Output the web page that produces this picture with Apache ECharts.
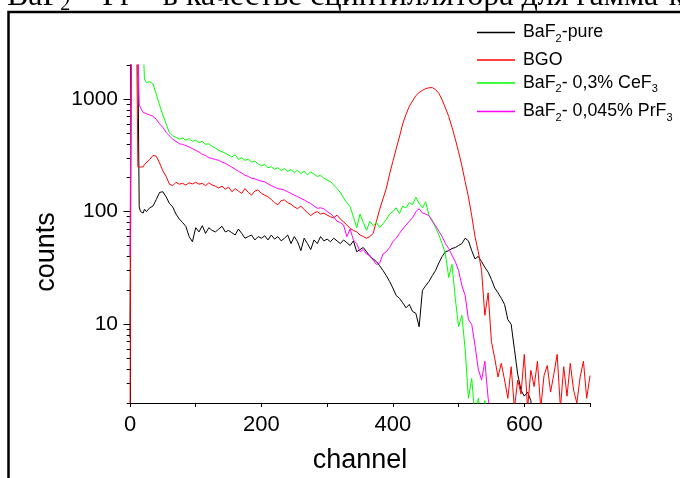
<!DOCTYPE html>
<html>
<head>
<meta charset="utf-8">
<script src="https://cdn.jsdelivr.net/npm/echarts@6/dist/echarts.min.js"></script>
<style>
html, body { margin: 0; padding: 0; background: #fff; }
#chart { width: 680px; height: 478px; }
</style>
</head>
<body>
<div id="chart"></div>
<script>
// channel grid (x)
var channels = [0, 2, 4, 6, 8, 10, 12, 14, 16, 18, 20, 22,
	25, 30, 35, 40, 45, 50, 55, 60, 65, 70,
	75, 80, 85, 90, 95, 100, 105, 110, 115, 120,
	125, 130, 135, 140, 145, 150, 155, 160, 165, 170,
	175, 180, 185, 190, 195, 200, 205, 210, 215, 220,
	225, 230, 235, 240, 245, 250, 255, 260, 265, 270,
	275, 280, 285, 290, 295, 300, 305, 310, 315, 320,
	325, 330, 335, 340, 345, 350, 355, 360, 365, 370,
	375, 380, 385, 390, 395, 400, 405, 410, 415, 420,
	425, 430, 435, 440, 445, 450, 455, 460, 465, 470,
	475, 480, 485, 490, 495, 500, 505, 510, 515, 520,
	525, 530, 535, 540, 545, 550, 555, 560, 565, 570,
	575, 580, 585, 590, 595, 600, 605, 610, 615, 620,
	625, 630, 635, 640, 645, 650, 655, 660, 665, 670,
	675, 680, 685, 690, 695, 700];

// BaF2-pure
var pure = [7.6, 6000, 6000, 6000, 5000, 4000, 2500, 110, 100, 104, 97, 105,
	100, 108, 112, 128, 148, 150, 135, 118, 110, 95,
	86, 80, 74, 60, 54, 72, 66, 75, 64, 72,
	68, 66, 70, 74, 66, 68, 65, 62, 70, 64,
	58, 60, 62, 56, 60, 58, 61, 56, 62, 57,
	60, 55, 58, 62, 52, 60, 54, 45, 58, 52,
	46, 56, 52, 60, 55, 57, 54, 58, 55, 52,
	56, 53, 50, 55, 44, 46, 48, 44, 40, 38,
	36, 33, 30, 27, 24, 21, 18, 17, 15.5, 14,
	15, 13, 12.5, 9.5, 20, 22, 24, 27, 30, 35,
	40, 44, 45, 47, 48, 50, 52, 58, 55, 45,
	38, 40, 36, 32, 29, 25, 21, 19, 17, 15,
	11, 10, 6, 3.6, 2.6, 2.3, 2.5, 2.1, 1, 1,
	1, 1, 1, 1, 1, 1, 1, 1, 1, 1,
	1, 1, 1, 1, 1, 1];

// BGO
var bgo = [1, 6000, 6000, 6000, 5000, 4000, 250, 240, 248, 255, 250, 262,
	268, 290, 315, 310, 270, 230, 205, 175, 170, 182,
	175, 178, 172, 180, 176, 182, 175, 178, 170, 180,
	172, 168, 162, 168, 158, 165, 150, 160, 152, 145,
	160, 148, 140, 152, 156, 145, 140, 135, 128, 120,
	115, 125, 127, 120, 116, 110, 106, 112, 104, 98,
	92, 97, 100, 95, 97, 93, 90, 88, 93, 86,
	81, 76, 71, 68, 66, 62, 60, 58, 60, 64,
	82, 105, 130, 160, 215, 278, 360, 460, 600, 730,
	860, 960, 1070, 1140, 1190, 1235, 1255, 1260, 1210, 1120,
	980, 830, 700, 560, 440, 340, 255, 185, 135, 92,
	60, 44, 30, 12, 19, 7, 5, 3.4, 4.5, 3.2,
	2.2, 4.2, 1.8, 3.2, 2.4, 5.4, 1.8, 3.9, 2.8, 4.7,
	1.8, 3.5, 4.3, 2.5, 3.6, 5.4, 1.8, 4.2, 2.3, 4.5,
	2.6, 2.0, 3.4, 4.7, 2.2, 3.5];

// BaF2 - 0,3% CeF3
var cef = [3000, 6000, 6000, 6000, 6000, 5000, 5000, 4500, 4000, 3500, 3000, 1500,
	1400, 1420, 1360, 1100, 880, 720, 600, 500, 470, 455,
	440, 450, 430, 445, 420, 430, 410, 420, 395, 400,
	380, 365, 350, 340, 330, 318, 305, 320, 290, 300,
	285, 292, 275, 280, 265, 255, 262, 245, 250, 238,
	245, 232, 240, 228, 236, 222, 232, 218, 228, 212,
	225, 215, 205, 210, 198, 190, 185, 172, 160, 148,
	132, 120, 110, 90, 72, 95, 80, 68, 82, 75,
	80, 72, 78, 85, 95, 100, 108, 96, 112, 108,
	120, 115, 134, 118, 108, 122, 92, 84, 72, 62,
	52, 42, 26, 34, 17, 9.5, 12, 6, 2.2, 3.3,
	1.5, 2.2, 1.5, 2.1, 1.5, 1, 1, 1, 1, 1,
	1, 1, 1, 1, 1, 1, 1, 1, 1, 1,
	1, 1, 1, 1, 1, 1, 1, 1, 1, 1,
	1, 1, 1, 1, 1, 1];

// BaF2 - 0,045% PrF3
var prf = [40, 6000, 6000, 6000, 5000, 4000, 3000, 900, 830, 800, 760, 745,
	740, 720, 700, 660, 600, 560, 505, 470, 440, 420,
	400, 395, 385, 375, 362, 350, 338, 322, 315, 300,
	296, 290, 285, 275, 268, 258, 248, 238, 228, 220,
	210, 205, 198, 195, 190, 186, 184, 176, 170, 165,
	160, 158, 155, 150, 145, 140, 136, 131, 127, 122,
	118, 112, 107, 108, 106, 100, 96, 90, 82, 80,
	76, 60, 70, 56, 52, 44, 46, 42, 41, 37,
	34, 35, 42, 44, 48, 54, 58, 64, 70, 76,
	82, 88, 100, 106, 97, 95, 92, 82, 75, 67,
	60, 52, 47, 41, 36, 30, 22, 18, 11, 10,
	6.5, 4, 3.2, 4.7, 2.2, 1.5, 1, 1, 1, 1,
	1, 1, 1, 1, 1, 1, 1, 1, 1, 1,
	1, 1, 1, 1, 1, 1, 1, 1, 1, 1,
	1, 1, 1, 1, 1, 1];

var seriesNames = ['BaF2-pure', 'BGO', 'BaF2- 0,3% CeF3', 'BaF2- 0,045% PrF3'];
var seriesLabels = ['BaF{s|2}-pure', 'BGO', 'BaF{s|2}- 0,3% CeF{s|3}', 'BaF{s|2}- 0,045% PrF{s|3}'];
var seriesColors = ['#000000', '#ff0000', '#00ff00', '#ff00ff'];
var seriesData = [pure, bgo, cef, prf];

var xTickLabels = [0, 200, 400, 600];
var yMajorTicks = [10, 100, 1000];
var yMinorTicks = [2, 3, 4, 5, 6, 7, 8, 9, 20, 30, 40, 50, 60, 70, 80, 90,
	200, 300, 400, 500, 600, 700, 800, 900, 2000];

var legendTops = [23.5, 51, 74, 102.5];

var myChart = echarts.init(document.getElementById('chart'));
var font = 'Liberation Sans';

var series = [];
for (var i = 0; i < seriesNames.length; i++) {
	var pts = [];
	for (var j = 0; j < channels.length; j++) {
		pts.push([channels[j], seriesData[i][j]]);
	}
	series.push({
		name : seriesNames[i],
		type : 'line',
		data : pts,
		symbol : 'none',
		clip : true,
		lineStyle : { width : 1, color : seriesColors[i] },
		itemStyle : { color : seriesColors[i] }
	});
}

var legends = [];
for (var k = 0; k < seriesNames.length; k++) {
	legends.push({
		data : [ seriesNames[k] ],
		left : 477,
		top : legendTops[k],
		padding : 0,
		icon : 'rect',
		itemWidth : 38,
		itemHeight : 1.5,
		selectedMode : false,
		formatter : (function(idx) {
			return function() { return seriesLabels[idx]; };
		})(k),
		textStyle : {
			fontFamily : font,
			fontSize : 17.8,
			color : '#000',
			padding : [0, 0, 0, 3],
			rich : {
				s : { fontFamily : font, fontSize : 11, color : '#000', padding : [12, 0, 0, 0] }
			}
		}
	});
}

var option = {
	animation : false,
	backgroundColor : '#fff',
	grid : { left : 130, top : 65, width : 460, height : 338 },
	legend : legends,
	xAxis : {
		type : 'value',
		min : 0,
		max : 700,
		interval : 100,
		axisLine : { lineStyle : { color : '#000', width : 1 } },
		axisTick : { length : 4, lineStyle : { color : '#000' } },
		axisLabel : {
			customValues : xTickLabels,
			margin : 11,
			fontFamily : font,
			fontSize : 22,
			color : '#000'
		},
		splitLine : { show : false }
	},
	yAxis : [ {
		type : 'log',
		logBase : 10,
		min : 2,
		max : 2000,
		position : 'left',
		axisLine : { show : true, lineStyle : { color : '#000', width : 1 } },
		axisTick : { show : true, customValues : yMajorTicks, length : 6.5, lineStyle : { color : '#000' } },
		axisLabel : {
			customValues : yMajorTicks,
			formatter : function(v) { return String(Math.round(v)); },
			margin : 12,
			fontFamily : font,
			fontSize : 21,
			color : '#000'
		},
		splitLine : { show : false }
	}, {
		type : 'log',
		logBase : 10,
		min : 2,
		max : 2000,
		position : 'left',
		offset : 0,
		axisLine : { show : false },
		axisTick : { show : true, customValues : yMinorTicks, length : 3.3, lineStyle : { color : '#000' } },
		axisLabel : { show : false },
		splitLine : { show : false }
	} ],
	series : series,
	graphic : [ {
		type : 'rect',
		shape : { x : 8.5, y : 12, width : 700, height : 500 },
		style : { fill : null, stroke : '#000', lineWidth : 2.5 },
		silent : true
	}, {
		type : 'text',
		x : 7,
		y : -20.5,
		style : {
			text : 'BaF{s|2} – Pr – в качестве сцинтиллятора для гамма-квантов',
			font : '32px "Liberation Serif"',
			fill : '#000',
			rich : { s : { font : '20px "Liberation Serif"', fill : '#000', padding : [15, 0, 0, 0] } }
		},
		silent : true
	}, {
		type : 'text',
		x : 47,
		y : 252,
		rotation : Math.PI / 2,
		style : {
			text : 'counts',
			font : '27px "Liberation Sans"',
			fill : '#000',
			align : 'center',
			verticalAlign : 'middle'
		}
	}, {
		type : 'text',
		x : 360,
		y : 461,
		style : {
			text : 'channel',
			font : '27px "Liberation Sans"',
			fill : '#000',
			align : 'center',
			verticalAlign : 'middle'
		}
	} ]
};
myChart.setOption(option);
</script>
</body>
</html>
